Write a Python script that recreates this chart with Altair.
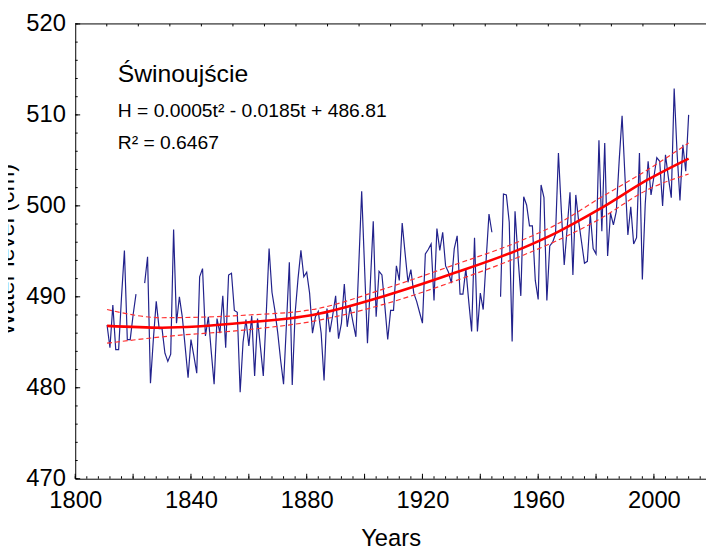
import altair as alt
import pandas as pd

# ---------------- data ----------------
years = [1811, 1812, 1813, 1814, 1815, 1816, 1817, 1818, 1819, 1820, 1821,
         1824, 1825, 1826, 1827, 1828, 1829, 1830, 1831, 1832, 1833, 1834,
         1835, 1836, 1837, 1838, 1839, 1840, 1841, 1842, 1843, 1844, 1845,
         1846, 1847, 1848, 1849, 1850, 1851, 1852, 1853, 1854, 1855, 1856,
         1857, 1858, 1859, 1860, 1861, 1862, 1863, 1864, 1865, 1866, 1867,
         1868, 1869, 1870, 1871, 1872, 1873, 1874, 1875, 1876, 1877, 1878,
         1879, 1880, 1881, 1882, 1883, 1884, 1885, 1886, 1887, 1888, 1889,
         1890, 1891, 1892, 1893, 1894, 1895, 1896, 1897, 1898, 1899, 1900,
         1901, 1902, 1903, 1904, 1905, 1906, 1907, 1908, 1909, 1910, 1911,
         1912, 1913, 1914, 1915, 1916, 1917, 1918, 1919, 1920, 1921, 1922,
         1923, 1924, 1925, 1926, 1927, 1928, 1929, 1930, 1931, 1932, 1933,
         1934, 1935, 1936, 1937, 1938, 1939, 1940, 1941, 1942, 1943, 1944,
         1947, 1948, 1949, 1950, 1951, 1952, 1953, 1954, 1955, 1956, 1957,
         1958, 1959, 1960, 1961, 1962, 1963, 1964, 1965, 1966, 1967, 1968,
         1969, 1970, 1971, 1972, 1973, 1974, 1975, 1976, 1977, 1978, 1979,
         1980, 1981, 1982, 1983, 1984, 1985, 1986, 1987, 1988, 1989, 1990,
         1991, 1992, 1993, 1994, 1995, 1996, 1997, 1998, 1999, 2000, 2001,
         2002, 2003, 2004, 2005, 2006, 2007, 2008, 2009, 2010, 2011, 2012]

levels = [486.9, 484.4, 489.1, 484.2, 484.2, 490.0, 495.1, 485.3, 485.3, 488.0, 490.3,
          491.5, 494.4, 480.5, 485.3, 489.5, 486.5, 486.5, 483.8, 482.9, 483.7, 497.4,
          487.1, 490.0, 487.8, 484.5, 481.1, 485.3, 483.5, 481.6, 492.2, 493.1, 485.7,
          487.8, 484.0, 480.4, 487.6, 486.0, 490.1, 484.4, 492.4, 492.6, 488.5, 488.3,
          479.5, 485.0, 487.5, 484.6, 487.9, 481.3, 487.6, 484.5, 481.3, 488.0, 495.3,
          490.5, 488.5, 486.0, 483.0, 480.4, 487.0, 493.8, 480.3, 488.2, 492.0, 495.1,
          492.2, 492.7, 490.4, 486.0, 487.8, 488.4, 486.0, 480.8, 488.7, 486.1, 488.0,
          490.1, 485.4, 487.1, 491.4, 486.7, 488.9, 487.2, 485.6, 493.5, 501.6, 493.2,
          484.9, 491.5, 498.3, 487.8, 492.8, 492.4, 489.0, 485.3, 488.5, 488.5, 493.4,
          491.8, 498.1, 494.8, 491.6, 493.0, 490.4, 489.5, 488.3, 487.1, 494.7, 495.2,
          495.8, 489.6, 497.5, 495.1, 497.1, 493.4, 492.7, 491.5, 495.3, 496.7, 490.3,
          490.3, 493.1, 489.5, 486.2, 496.5, 486.2, 490.4, 488.6, 494.0, 499.1, 497.1,
          490.0, 501.3, 501.2, 498.2, 485.1, 499.4, 494.5, 490.1, 501.0, 500.1, 497.8,
          497.8, 491.8, 489.7, 502.3, 500.9, 489.6, 495.6, 496.0, 496.9, 505.8, 499.5,
          493.5, 497.5, 501.5, 492.4, 501.2, 498.3, 496.0, 493.7, 493.9, 499.1, 495.3,
          494.7, 507.2, 497.2, 506.9, 494.5, 499.2, 497.9, 499.4, 505.0, 509.9, 503.2,
          496.8, 499.9, 495.8, 496.5, 505.8, 491.9, 500.2, 504.9, 501.2, 503.2, 505.3,
          504.9, 500.0, 505.6, 503.1, 500.9, 512.9, 505.8, 500.6, 506.7, 503.8, 510.0]

# quadratic trend and its confidence band
fit_years = [1811, 1830, 1860, 1882, 1908, 1930, 1955, 1966, 1981, 1998, 2012]
fit_mid = [486.8, 486.6, 487.2, 488.0, 490.2, 492.5, 495.4, 497.0, 499.6, 502.9, 505.2]
fit_upper = [488.6, 487.7, 488.0, 488.6, 491.0, 493.4, 496.3, 497.9, 500.8, 504.0, 506.9]
fit_lower = [484.9, 485.6, 486.4, 487.3, 489.3, 491.6, 494.6, 496.1, 498.5, 501.8, 503.5]

x_labels = [1800, 1840, 1880, 1920, 1960, 2000]
y_labels = [470, 480, 490, 500, 510, 520]
x_ticks_minor = list(range(1800, 2017, 4))
x_ticks_major = list(range(1800, 2017, 20))
y_ticks_minor = list(range(470, 521, 2))
y_ticks_major = list(range(470, 521, 10))
x_ticks_top = [1800 + k * 218 / 20 for k in range(1, 20)]

ann_texts = ["Świnoujście", "H = 0.0005t² - 0.0185t + 486.81", "R² = 0.6467"]
ann_x = [1814.7, 1814.7, 1814.7]
ann_y = [513.6, 509.8, 506.3]
ann_size = [25, 19.5, 19.5]

# ---------------- chart ----------------
W, H = 638, 460
FONT = "Liberation Sans"
xscale = alt.Scale(domain=[1800, 2018], nice=False, zero=False)
yscale = alt.Scale(domain=[470, 520], nice=False, zero=False)

obs = pd.DataFrame({"year": years, "level": levels})
obs["seg"] = (obs["year"].diff() > 1).cumsum()

fit = pd.concat([
    pd.DataFrame({"year": fit_years, "value": fit_mid, "kind": "mid"}),
    pd.DataFrame({"year": fit_years, "value": fit_upper, "kind": "upper"}),
    pd.DataFrame({"year": fit_years, "value": fit_lower, "kind": "lower"}),
])

x_axis = alt.Axis(values=x_labels, format="d", ticks=False, tickSize=0, grid=False,
                  domain=True, domainColor="black", domainWidth=1,
                  labelFont=FONT, labelFontSize=24, labelColor="black",
                  labelPadding=10, labelFlush=False,
                  title="Years", titleFont=FONT, titleFontSize=24,
                  titleFontWeight="normal", titleColor="black",
                  titleBaseline="alphabetic", titleY=68)
y_axis = alt.Axis(values=y_labels, format="d", ticks=False, tickSize=0, grid=False,
                  domain=True, domainColor="black", domainWidth=1,
                  labelFont=FONT, labelFontSize=24, labelColor="black",
                  labelPadding=10,
                  title="Water level (cm)", titleFont=FONT, titleFontSize=24,
                  titleFontWeight="normal", titleColor="black",
                  titleAngle=270, titleBaseline="alphabetic", titleAlign="center",
                  titleX=-62, titleY=228)

X = lambda f: alt.X(f, scale=xscale, axis=x_axis)
Y = lambda f: alt.Y(f, scale=yscale, axis=y_axis)

blue = alt.Chart(obs).mark_line(color="#22228c", strokeWidth=1.2).encode(
    x=X("year:Q"), y=Y("level:Q"), detail="seg:N",
)

band = alt.Chart(fit).transform_filter("datum.kind != 'mid'").mark_line(
    color="#ff3030", strokeWidth=1.2, strokeDash=[5, 3], interpolate="monotone"
).encode(x=X("year:Q"), y=Y("value:Q"), detail="kind:N")

trend = alt.Chart(fit).transform_filter("datum.kind == 'mid'").mark_line(
    color="#ff0000", strokeWidth=2.6, interpolate="monotone"
).encode(x=X("year:Q"), y=Y("value:Q"))

ann = alt.Chart(pd.DataFrame({"year": ann_x, "value": ann_y, "t": ann_texts, "s": ann_size})).mark_text(
    align="left", baseline="alphabetic", font=FONT, color="black"
).encode(
    x=X("year:Q"), y=Y("value:Q"), text="t:N",
    size=alt.Size("s:Q", scale=None, legend=None),
)

def xticks(vals, y0, y1):
    return alt.Chart(pd.DataFrame({"year": vals})).mark_rule(color="black", strokeWidth=1).encode(
        x=X("year:Q"), y=alt.value(y0), y2=alt.value(y1))

def yticks(vals, x0, x1):
    return alt.Chart(pd.DataFrame({"level": vals})).mark_rule(color="black", strokeWidth=1).encode(
        y=Y("level:Q"), x=alt.value(x0), x2=alt.value(x1))

top_border = alt.Chart(pd.DataFrame({"a": [0]})).mark_rule(color="black", strokeWidth=1).encode(
    x=alt.value(0), x2=alt.value(W), y=alt.value(0))

chart = alt.layer(
    blue, band, trend, ann,
    xticks(x_ticks_minor, H, H - 2.5),
    xticks(x_ticks_major, H, H - 5),
    xticks(x_ticks_top, 0, 2.5),
    yticks(y_ticks_minor, 0, 2.5),
    yticks(y_ticks_major, 0, 5),
    top_border,
).properties(
    width=W, height=H,
    autosize=alt.AutoSizeParams(type="none"),
    padding={"left": 68, "top": 13, "right": 0, "bottom": 70},
    background="white",
).configure_view(stroke=None)

chart.save("out.html", embed_options={"renderer": "svg", "actions": False})
